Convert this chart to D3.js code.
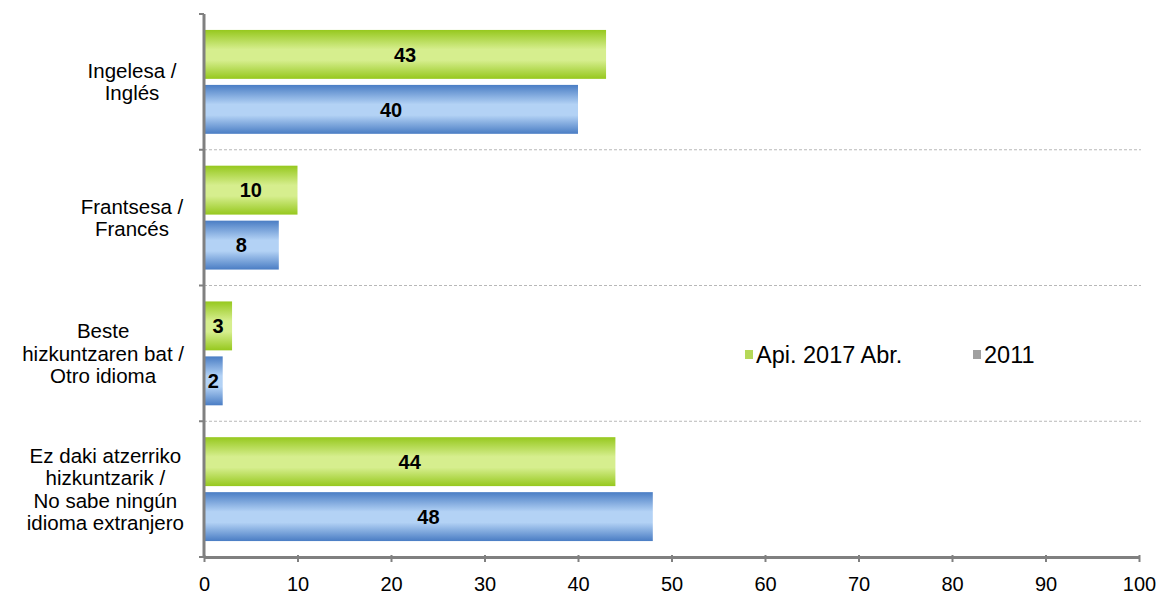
<!DOCTYPE html>
<html><head><meta charset="utf-8">
<script src="https://cdn.jsdelivr.net/npm/d3@7"></script>
<style>body{margin:0;background:#fff}svg{display:block}</style>
</head><body>
<svg id="c" width="1163" height="595"></svg>
<script>
const categories = [
  ["Ingelesa /", "Inglés"],
  ["Frantsesa /", "Francés"],
  ["Beste", "hizkuntzaren bat /", "Otro idioma"],
  ["Ez daki atzerriko", "hizkuntzarik /", "No sabe ningún", "idioma extranjero"]
];
const seriesNames = ["Api. 2017 Abr.", "2011"];
const values2017 = [43, 10, 3, 44];
const values2011 = [40, 8, 2, 48];
const xTicks = [0,10,20,30,40,50,60,70,80,90,100];

const FONT = "Liberation Sans, Arial, sans-serif";
const svg = d3.select("#c");
const m = {left:204, right:1139, top:14, bottom:557};
const x = d3.scaleLinear().domain([0,100]).range([m.left, m.right]);
const y = d3.scaleBand().domain(d3.range(categories.length)).range([m.top, m.bottom]);
const inner = d3.scaleBand().domain([0,1]).range([0, y.bandwidth()]).paddingInner(0.11).paddingOuter(0.29);

const defs = svg.append("defs");
function grad(id, edge, mid){
  const g = defs.append("linearGradient").attr("id", id).attr("x1",0).attr("y1",0).attr("x2",0).attr("y2",1);
  g.append("stop").attr("offset","0%").attr("stop-color",edge);
  g.append("stop").attr("offset","40%").attr("stop-color",mid);
  g.append("stop").attr("offset","62%").attr("stop-color",mid);
  g.append("stop").attr("offset","100%").attr("stop-color",edge);
}
grad("gG", "#96c81e", "#d6ee8e");
grad("gB", "#4a7dc4", "#b3d2f5");
const fills = ["url(#gG)", "url(#gB)"];
const legendColors = ["#b5d858", "#a0a0a0"];

// dashed separators
svg.append("g").selectAll("line").data(d3.range(1, categories.length)).join("line")
  .attr("x1", m.left).attr("x2", m.right + 2)
  .attr("y1", i => y(i)).attr("y2", i => y(i))
  .attr("stroke", "#b8b8b8").attr("stroke-width", 1).attr("stroke-dasharray", "3,2");

const series = [values2017, values2011];
series.forEach((vals, s) => {
  const g = svg.append("g");
  g.selectAll("rect").data(vals).join("rect")
    .attr("x", x(0)+1).attr("y", (d,i) => y(i) + inner(s))
    .attr("width", d => x(d) - x(0) - 1).attr("height", inner.bandwidth())
    .attr("fill", fills[s]);
  g.selectAll("text").data(vals).join("text")
    .attr("x", d => (x(0) + x(d)) / 2)
    .attr("y", (d,i) => y(i) + inner(s) + inner.bandwidth()/2)
    .attr("dy", "0.36em").attr("text-anchor", "middle")
    .attr("font-family", FONT)
    .attr("font-weight", "bold").attr("font-size", 20).attr("fill", "#000")
    .text(d => d);
});

// x axis
const xAxis = d3.axisBottom(x).tickValues(xTicks).tickSize(6).tickSizeOuter(0);
const ax = svg.append("g").attr("transform", `translate(0,${m.bottom})`).call(xAxis);
ax.select(".domain").attr("stroke", "#808080").attr("stroke-width", 3);
ax.selectAll(".tick line").attr("stroke", "#808080").attr("stroke-width", 2).attr("y1", -2).attr("y2", 5);
ax.selectAll(".tick text").attr("font-family", FONT)
  .attr("font-size", 20).attr("fill", "#000").attr("y", 34).attr("dy", 0);

// y axis
const yAx = svg.append("g").attr("transform", `translate(${m.left},0)`)
  .call(d3.axisLeft(y).tickValues(d3.range(categories.length)).tickSize(0).tickFormat(""));
yAx.select(".domain").attr("stroke", "#808080").attr("stroke-width", 3)
  .attr("d", `M0,${m.top}V${m.bottom+1}`);
svg.append("g").selectAll("line").data(d3.range(0, categories.length+1)).join("line")
  .attr("x1", m.left - 5).attr("x2", m.left)
  .attr("y1", i => i < categories.length ? y(i) : m.bottom)
  .attr("y2", i => i < categories.length ? y(i) : m.bottom)
  .attr("stroke", "#808080").attr("stroke-width", 2);

// category labels
const lh = 22.5;
const lab = svg.append("g").selectAll("text").data(categories).join("text")
  .attr("text-anchor", "middle")
  .attr("font-family", FONT)
  .attr("font-size", 20.5).attr("fill", "#000");
lab.each(function(lines, i){
  const cy = y(i) + y.bandwidth()/2;
  const t = d3.select(this);
  lines.forEach((ln, k) => {
    t.append("tspan").attr("y", cy + (k - (lines.length-1)/2) * lh)
      .attr("dy", "0.35em").text(ln);
  });
  let maxW = 0;
  t.selectAll("tspan").each(function(){ maxW = Math.max(maxW, this.getComputedTextLength()); });
  const cx = Math.min(132, 184 - maxW/2);
  t.selectAll("tspan").attr("x", cx);
});

// legend
const legX = [745, 973];
const leg = svg.append("g");
seriesNames.forEach((n, i) => {
  leg.append("rect").attr("x", legX[i]).attr("y", 350).attr("width", 8).attr("height", 9).attr("fill", legendColors[i]);
  leg.append("text").attr("x", legX[i] + 11).attr("y", 355).attr("dy", "0.36em")
    .attr("font-family", FONT).attr("font-size", 23.5).attr("fill", "#000").text(n);
});
</script>
</body></html>
